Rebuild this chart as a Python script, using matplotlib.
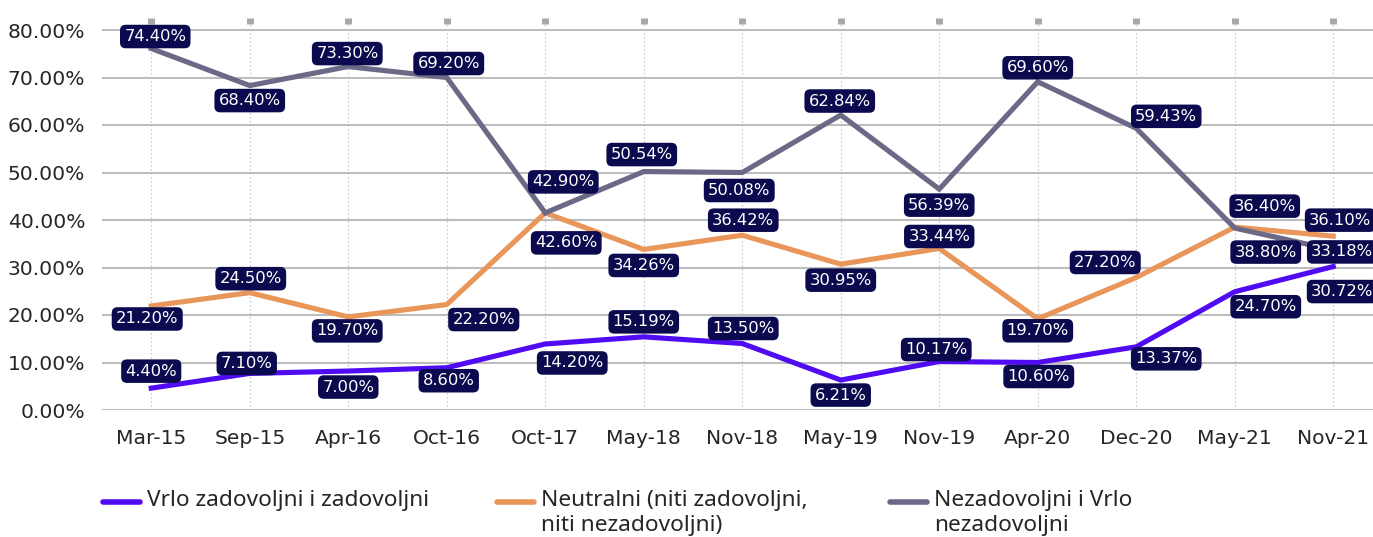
import matplotlib
matplotlib.use("Agg")
import matplotlib.pyplot as plt
from matplotlib.lines import Line2D
from matplotlib.ticker import PercentFormatter

# ---------------- data ----------------
categories = ["Mar-15", "Sep-15", "Apr-16", "Oct-16", "Oct-17", "May-18", "Nov-18",
              "May-19", "Nov-19", "Apr-20", "Dec-20", "May-21", "Nov-21"]

satisfied = [4.6, 7.7, 8.2, 8.9, 13.9, 15.4, 14.0, 6.3, 10.2, 10.0, 13.3, 24.9, 30.2]
neutral = [21.9, 24.7, 19.6, 22.2, 41.5, 33.8, 36.8, 30.7, 34.0, 19.2, 27.9, 38.5, 36.6]
dissatisfied = [76.1, 68.3, 72.3, 70.0, 41.5, 50.2, 50.0, 62.1, 46.5, 69.1, 59.3, 38.3, 33.7]

satisfied_labels = ["4.40%", "7.10%", "7.00%", "8.60%", "14.20%", "15.19%", "13.50%",
                    "6.21%", "10.17%", "10.60%", "13.37%", "24.70%", "30.72%"]
neutral_labels = ["21.20%", "24.50%", "19.70%", "22.20%", "42.60%", "34.26%", "36.42%",
                  "30.95%", "33.44%", "19.70%", "27.20%", "36.40%", "36.10%"]
dissatisfied_labels = ["74.40%", "68.40%", "73.30%", "69.20%", "42.90%", "50.54%", "50.08%",
                       "62.84%", "56.39%", "69.60%", "59.43%", "38.80%", "33.18%"]

series_names = ["Vrlo zadovoljni i zadovoljni",
                "Neutralni (niti zadovoljni,\nniti nezadovoljni)",
                "Nezadovoljni i Vrlo\nnezadovoljni"]

# ---------------- styles / label offsets (pixels) ----------------
colors = ["#4f0cf2", "#e9965b", "#6b6986"]
box_color = "#0b0a4e"

off_sat = [(0, 17), (-3, 10), (0, -16), (2, -13), (27, -19), (0, 15), (1, 15),
           (0, -15), (-3, 12), (1, -14), (30, -12), (31, -15), (9, -25)]
off_neu = [(-4, -13), (1, 14), (-1, -14), (37, -15), (21, -30), (0, -16), (1, 15),
           (0, -16), (0, 12), (0, -12), (-31, 15), (30, 21), (7, 16)]
off_dis = [(4, 12), (0, -15), (-1, 13), (2, 14), (18, 31), (-2, 17), (-3, -18),
           (-1, 14), (0, -16), (0, 14), (30, 12), (31, -24), (9, -2)]

W, H, DPI = 1373, 537, 100
fig = plt.figure(figsize=(W / DPI, H / DPI), dpi=DPI)
fig.patch.set_facecolor("white")

ax_left, ax_right = 102, 1373
ax_top, ax_bottom = 20.5, 410
ax = fig.add_axes([ax_left / W, (H - ax_bottom) / H,
                   (ax_right - ax_left) / W, (ax_bottom - ax_top) / H])

x = list(range(len(categories)))
all_series = [satisfied, neutral, dissatisfied]
all_labels = [satisfied_labels, neutral_labels, dissatisfied_labels]
all_offsets = [off_sat, off_neu, off_dis]

for vals, col in zip(all_series, colors):
    ax.plot(x, vals, color=col, lw=3.7, solid_joinstyle="miter", zorder=3)

for vals, labs, offs in zip(all_series, all_labels, all_offsets):
    for xi, v, lab, (dx, dy) in zip(x, vals, labs, offs):
        ax.annotate(lab, (xi, v), xytext=(dx, dy), textcoords="offset pixels",
                    ha="center", va="center", color="white", fontsize=11.8,
                    fontfamily="DejaVu Sans", zorder=5, annotation_clip=False,
                    bbox=dict(boxstyle="round,pad=0.26,rounding_size=0.35",
                              fc=box_color, ec="none"))

ax.set_xlim(-0.5, (ax_right - ax_left) / 98.5 - 0.5)
ax.set_ylim(0, 82)
ax.set_yticks([0, 10, 20, 30, 40, 50, 60, 70, 80])
ax.yaxis.set_major_formatter(PercentFormatter(decimals=2))
ax.set_xticks(x)
ax.set_xticklabels(categories)

for s in ax.spines.values():
    s.set_visible(False)

ax.grid(axis="y", color="#bdbdbd", lw=1.5, zorder=0)
ax.grid(axis="x", color="#c4c4c4", lw=0.9, ls=(0, (1.2, 2)), zorder=0)
ax.set_axisbelow(True)

ax.tick_params(axis="y", length=0, pad=12, labelsize=14.6, labelcolor="#262626")
ax.tick_params(axis="x", bottom=False, top=True, labelbottom=True, labeltop=False,
               length=5, width=5, direction="inout", color="#a8a8a8",
               pad=11, labelsize=14.6, labelcolor="#262626")
for t in ax.get_xticklabels() + ax.get_yticklabels():
    t.set_fontfamily("DejaVu Sans")

# ---------------- legend (manual, figure pixels) ----------------
leg_x = [103, 497, 890]
leg_y = 502
for lx, col, name in zip(leg_x, colors, series_names):
    fig.add_artist(Line2D([lx / W, (lx + 37) / W], [(H - leg_y) / H] * 2,
                          color=col, lw=4, solid_capstyle="round",
                          transform=fig.transFigure))
    fig.text((lx + 44) / W, (H - leg_y + 12) / H, name, ha="left", va="top",
             fontsize=16.3, fontfamily="Noto Sans", color="#262626",
             linespacing=1.22)

fig.savefig("out.png", dpi=DPI, facecolor="white")
